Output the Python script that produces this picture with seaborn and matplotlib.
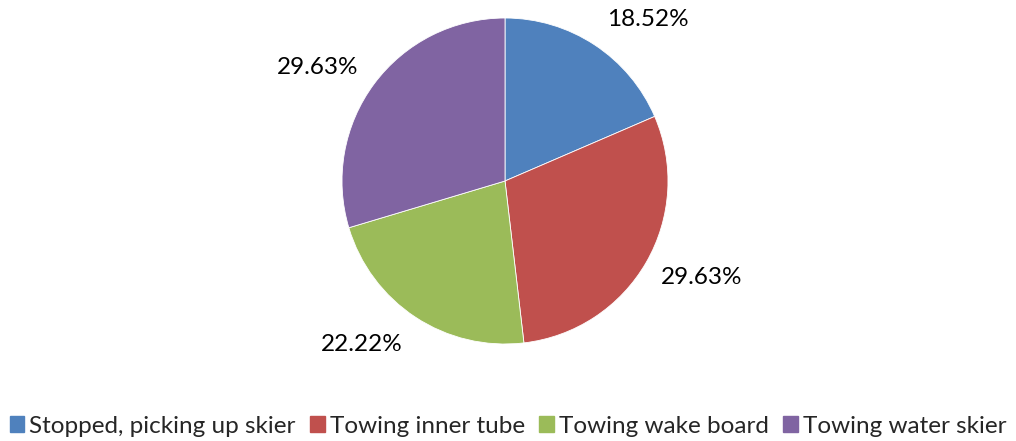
import matplotlib
matplotlib.use("Agg")
import matplotlib.pyplot as plt
import seaborn as sns

# data
activities = ["Stopped, picking up skier", "Towing inner tube", "Towing wake board", "Towing water skier"]
counts = [5, 8, 6, 8]
slice_colors = ["#4F81BD", "#C0504D", "#9BBB59", "#8064A2"]

sns.set_theme(style="white")
plt.rcParams['font.family'] = ['Lato', 'DejaVu Sans']

palette = sns.color_palette(slice_colors)

fig = plt.figure(figsize=(10.16, 4.41), dpi=100)
# pie centre ~ (505,181) px, radius ~163 px
ax = fig.add_axes([(505 - 163) / 1016, (441 - 344) / 441, 326 / 1016, 326 / 441])

wedges, texts, autotexts = ax.pie(
    counts,
    colors=palette,
    startangle=90,
    counterclock=False,
    autopct='%1.2f%%',
    pctdistance=1.33,
    wedgeprops=dict(edgecolor='white', linewidth=0.6),
    textprops=dict(fontsize=17.5, color='black'),
)
ax.set_xlim(-1, 1)
ax.set_ylim(-1, 1)
ax.set_aspect('equal')

# Excel-style "best fit" label placement (in pie radii)
label_pos = [(0.877, 0.99), (1.209, -0.595), (-0.877, -1.006), (-1.147, 0.699)]
for t, p in zip(autotexts, label_pos):
    t.set_position(p)
    t.set_clip_on(False)

handles = [plt.Rectangle((0, 0), 1, 1, color=c) for c in palette]
fig.legend(
    handles, activities,
    loc='lower center', bbox_to_anchor=(0.5, -0.04),
    ncol=4, frameon=False, fontsize=17.5,
    handlelength=0.6, handleheight=0.6, handletextpad=0.2,
    columnspacing=0.6,
)

fig.savefig("out.png", dpi=100)
